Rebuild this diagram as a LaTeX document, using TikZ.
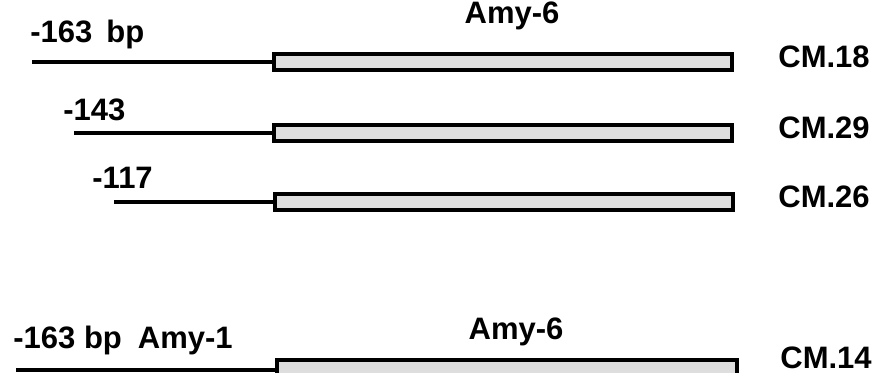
\documentclass[tikz,border=0pt]{standalone}
\usepackage{fontspec}
\setmainfont{Liberation Sans}
\usetikzlibrary{positioning}

\begin{document}
\begin{tikzpicture}[x=0.5pt,y=-0.5pt, font=\fontsize{15.5}{18}\selectfont\bfseries,
 gene/.style={draw=black,line width=2pt,fill=black!13,minimum height=8pt,inner sep=0pt},
 dna/.style={draw=black,line width=2pt},
 lab/.style={anchor=base west,inner sep=0pt},
 clone/.style={anchor=base west,inner sep=0pt}]
\useasboundingbox (0,0) rectangle (888,373);
% upper three constructs
\node[gene, anchor=west, minimum width=229pt] (g1) at (272,62) {};
\node[gene, anchor=west, minimum width=229pt] (g2) at (272,133) {};
\node[gene, anchor=west, minimum width=229pt] (g3) at (273,202) {};
\coordinate (s1) at (32,62);
\coordinate (s2) at (74,133);
\coordinate (s3) at (114,202);
\draw[dna] (s1) -- (g1.west);
\draw[dna] (s2) -- (g2.west);
\draw[dna] (s3) -- (g3.west);
\node[lab] (p1) at (30,43) {-163\hspace{7pt}bp};
\node[lab] (p2) at (63,121) {-143};
\node[lab] (p3) at (92,189) {-117};
\node[anchor=base,inner sep=0pt] (a1) at (512,24) {Amy-6};
\node[clone] (c1) at (778,68) {CM.18};
\node[clone] (c2) at (778,139) {CM.29};
\node[clone] (c3) at (778,208) {CM.26};
% hybrid construct
\node[gene, anchor=west, minimum width=230pt] (g4) at (275,368) {};
\coordinate (s4) at (16,370);
\draw[dna] (s4) -- (g4.west |- s4);
\node[lab] (p4) at (13,349) {-163 bp\hspace{8pt}Amy-1};
\node[anchor=base,inner sep=0pt] (a4) at (516,340) {Amy-6};
\node[clone] (c4) at (780,369) {CM.14};
\end{tikzpicture}
\end{document}
